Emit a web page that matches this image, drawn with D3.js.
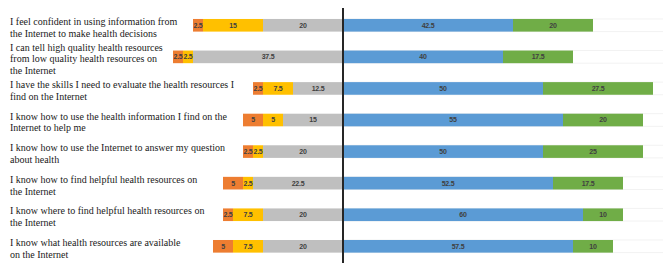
<!DOCTYPE html>
<html>
<head>
<meta charset="utf-8">
<script src="https://cdn.jsdelivr.net/npm/d3@7"></script>
<style>
  body { margin: 0; background: #fff; }
  svg { display: block; }
</style>
</head>
<body>
<svg id="chart" width="669" height="271"></svg>
<script>
// statements (wrapped as in the original)
const statements = [
  ["I feel confident in using information from", "the Internet to make health decisions"],
  ["I can tell high quality health resources", "from low quality health resources on", "the Internet"],
  ["I have the skills I need to evaluate the health resources I", "find on the Internet"],
  ["I know how to use the health information I find on the", "Internet to help me"],
  ["I know how to use the Internet to answer my question", "about health"],
  ["I know how to find helpful health resources on", "the Internet"],
  ["I know where to find helpful health resources on", "the Internet"],
  ["I know what health resources are available", "on the Internet"]
];

// left side (stacked outward from the centre line)
const neutral = [20, 37.5, 12.5, 15, 20, 22.5, 20, 20];
const disagree = [15, 2.5, 7.5, 5, 2.5, 2.5, 7.5, 7.5];
const stronglyDisagree = [2.5, 2.5, 2.5, 5, 2.5, 5, 2.5, 5];
// right side
const agree = [42.5, 40, 50, 55, 50, 52.5, 60, 57.5];
const stronglyAgree = [20, 17.5, 27.5, 20, 25, 17.5, 10, 10];

const colors = {
  sd: "#ED7D31",
  d: "#FFC000",
  n: "#BFBFBF",
  a: "#5B9BD5",
  sa: "#70AD47"
};

(() => {
  const svg = d3.select("#chart");

  const x = d3.scaleLinear()
    .domain([-80, 80])
    .range([23, 663]);

  const y = d3.scaleBand()
    .domain(d3.range(statements.length))
    .range([9.5, 262.1])
    .paddingInner(0.6)
    .paddingOuter(0.3);

  // build segments: left ones go negative from 0
  const segs = [];
  statements.forEach((s, i) => {
    let left = 0;
    [["n", neutral[i]], ["d", disagree[i]], ["sd", stronglyDisagree[i]]].forEach(([k, v]) => {
      segs.push({ row: i, key: k, v, x0: left - v, x1: left });
      left -= v;
    });
    let right = 0;
    [["a", agree[i]], ["sa", stronglyAgree[i]]].forEach(([k, v]) => {
      segs.push({ row: i, key: k, v, x0: right, x1: right + v });
      right += v;
    });
  });

  // faint guide lines at bar edges on the right
  const guides = svg.append("g");
  statements.forEach((s, i) => {
    [y(i), y(i) + y.bandwidth()].forEach(yy => {
      guides.append("line")
        .attr("x1", x(0)).attr("x2", x(80))
        .attr("y1", yy).attr("y2", yy)
        .attr("stroke", "#f2f2f2")
        .attr("stroke-width", 1);
    });
  });

  svg.append("g")
    .selectAll("rect")
    .data(segs)
    .join("rect")
    .attr("x", d => x(d.x0))
    .attr("y", d => y(d.row))
    .attr("width", d => x(d.x1) - x(d.x0))
    .attr("height", y.bandwidth())
    .attr("fill", d => colors[d.key]);

  svg.append("g")
    .selectAll("text")
    .data(segs)
    .join("text")
    .attr("x", d => (x(d.x0) + x(d.x1)) / 2)
    .attr("y", d => y(d.row) + y.bandwidth() / 2)
    .attr("dy", "0.35em")
    .attr("text-anchor", "middle")
    .attr("fill", "#404040")
    .style("font-family", "'Liberation Sans', Arial, sans-serif")
    .style("font-size", "7px")
    .style("letter-spacing", "-0.25px")
    .style("font-weight", "bold")
    .text(d => d.v);

  // centre line
  svg.append("line")
    .attr("x1", x(0)).attr("x2", x(0))
    .attr("y1", 8).attr("y2", 263)
    .attr("stroke", "#262626")
    .attr("stroke-width", 2);

  // statement labels
  const lineH = 11.7;
  const labels = svg.append("g")
    .style("font-family", "'Liberation Serif', 'Times New Roman', serif")
    .style("font-size", "10px")
    .attr("fill", "#1a1a1a");

  statements.forEach((lines, i) => {
    const cy = y(i) + y.bandwidth() / 2 + 2;
    const top = cy - (lines.length - 1) * lineH / 2;
    const t = labels.append("text");
    lines.forEach((ln, j) => {
      t.append("tspan")
        .attr("x", 10)
        .attr("y", top + j * lineH)
        .attr("dy", "0.35em")
        .text(ln);
    });
  });
})();
</script>
</body>
</html>
